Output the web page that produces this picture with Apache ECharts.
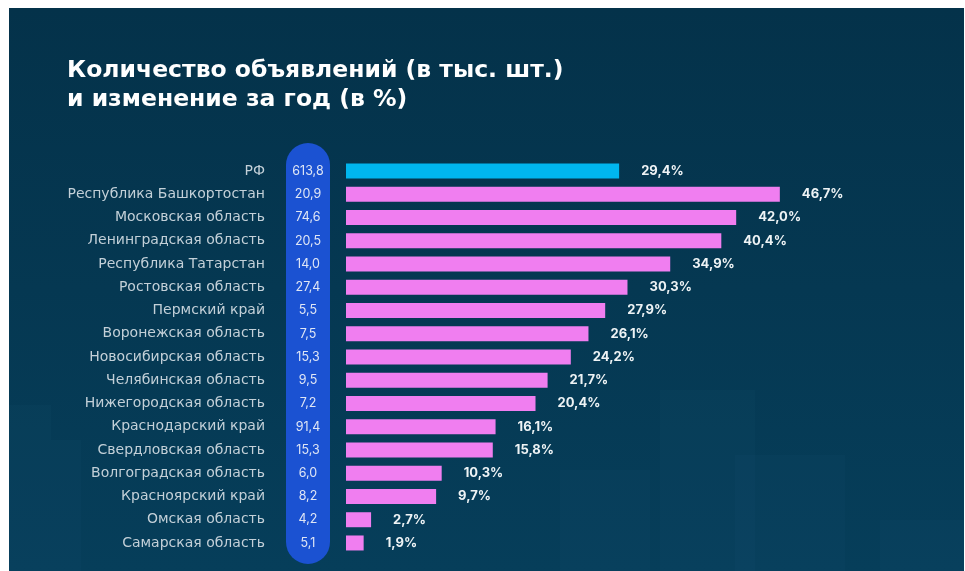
<!DOCTYPE html>
<html lang="ru">
<head>
<meta charset="utf-8">
<title>Количество объявлений и изменение за год</title>
<script src="https://cdn.jsdelivr.net/npm/echarts@6/dist/echarts.min.js"></script>
<style>
  html, body { margin: 0; padding: 0; background: #ffffff; }
  #chart { width: 965px; height: 571px; }
</style>
</head>
<body>
<div id="chart"></div>
<script>
// Regions, listing counts (thousand units) and year-over-year change (%)
const regions = [
  'РФ',
  'Республика Башкортостан',
  'Московская область',
  'Ленинградская область',
  'Республика Татарстан',
  'Ростовская область',
  'Пермский край',
  'Воронежская область',
  'Новосибирская область',
  'Челябинская область',
  'Нижегородская область',
  'Краснодарский край',
  'Свердловская область',
  'Волгоградская область',
  'Красноярский край',
  'Омская область',
  'Самарская область'
];
const listings = [613.8, 20.9, 74.6, 20.5, 14.0, 27.4, 5.5, 7.5, 15.3, 9.5, 7.2, 91.4, 15.3, 6.0, 8.2, 4.2, 5.1];
const changes = [29.4, 46.7, 42.0, 40.4, 34.9, 30.3, 27.9, 26.1, 24.2, 21.7, 20.4, 16.1, 15.8, 10.3, 9.7, 2.7, 1.9];

const comma = v => v.toFixed(1).replace('.', ',');

const chart = echarts.init(document.getElementById('chart'), null, { renderer: 'canvas' });

const panelColor = new echarts.graphic.LinearGradient(0, 0, 0, 1, [
  { offset: 0, color: '#04324a' },
  { offset: 1, color: '#063e5a' }
]);

// faint skyline blocks in the lower part of the panel
const blocks = [
  [9, 405, 42, 166], [51, 440, 30, 131],
  [560, 470, 90, 101], [660, 390, 95, 181],
  [735, 455, 110, 116], [880, 520, 84, 51]
].map(([x, y, w, h]) => ({
  type: 'rect', silent: true, z: -9,
  shape: { x, y, width: w, height: h },
  style: { fill: 'rgba(60,120,150,0.05)' }
}));

chart.setOption({
  backgroundColor: '#ffffff',
  animation: false,
  graphic: [
    { type: 'rect', silent: true, z: -10, shape: { x: 9, y: 8, width: 955, height: 563 }, style: { fill: panelColor } },
    ...blocks,
    { type: 'rect', silent: true, z: -5, shape: { x: 286, y: 143, width: 44, height: 421, r: 22 }, style: { fill: '#1b52d2' } },
    {
      type: 'text', left: 67, top: 56, z: 5,
      style: {
        text: 'Количество объявлений (в тыс. шт.)\nи изменение за год (в %)',
        fill: '#ffffff', font: 'bold 23.5px "DejaVu Sans"', lineHeight: 29
      }
    }
  ],
  grid: { left: 346, right: 154.5, top: 159.4, bottom: 16.4, containLabel: false },
  xAxis: {
    type: 'value', min: 0, max: 50, show: false,
    splitLine: { show: false }
  },
  yAxis: [
    {
      type: 'category', data: regions, inverse: true,
      axisLine: { show: false }, axisTick: { show: false },
      axisLabel: { margin: 81, color: '#c3d0d8', fontSize: 14, fontFamily: 'DejaVu Sans' }
    },
    {
      type: 'category', data: listings.map(comma), inverse: true, position: 'left',
      axisLine: { show: false }, axisTick: { show: false },
      axisLabel: { margin: 38, align: 'center', color: '#dfe6f5', fontSize: 12.5, fontFamily: 'Inter' }
    }
  ],
  series: [{
    type: 'bar',
    data: changes.map((v, i) => ({ value: v, itemStyle: { color: i === 0 ? '#00b6ef' : '#f07ef0' } })),
    barWidth: 15,
    label: {
      show: true, position: 'right', distance: 22,
      formatter: p => comma(p.value) + '%',
      color: '#eef3f5', fontSize: 13, fontWeight: 'bold', fontFamily: 'Inter'
    }
  }]
});
</script>
</body>
</html>
